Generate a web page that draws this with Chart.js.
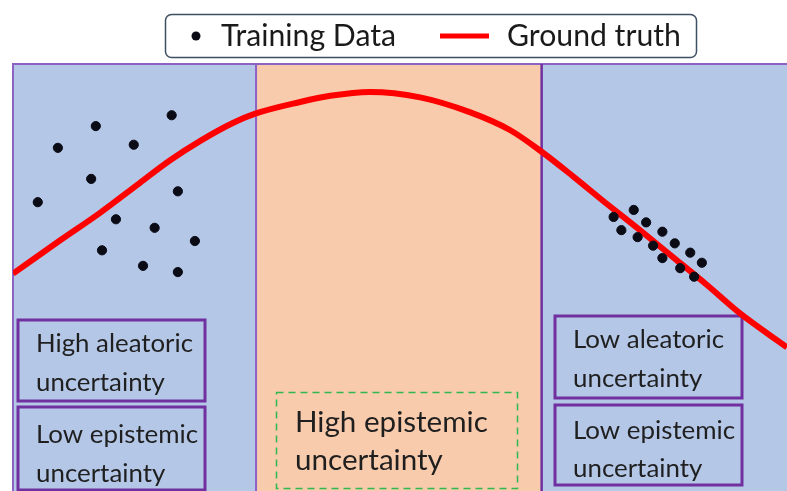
<!DOCTYPE html>
<html>
<head>
<meta charset="utf-8">
<script src="https://cdn.jsdelivr.net/npm/chart.js@4.4.1/dist/chart.umd.min.js"></script>
<style>
    html, body { margin: 0; padding: 0; background: #ffffff; }
    #chart { display: block; }
</style>
</head>
<body>
<canvas id="chart" width="787" height="491"></canvas>
<script>
// Data (x: 0..10 across the plot, y: 0..5.5 bottom to top)
const trainX = [0.32, 0.58, 1.07, 1.56, 2.05, 1.01, 2.13, 1.33, 1.83, 2.35, 1.15, 1.68, 2.13,
                7.76, 8.02, 7.86, 8.18, 8.07, 8.39, 8.27, 8.55, 8.39, 8.75, 8.62, 8.90, 8.80];
const trainY = [3.72, 4.42, 4.70, 4.46, 4.84, 4.02, 3.86, 3.50, 3.39, 3.22, 3.10, 2.90, 2.82,
                3.53, 3.62, 3.36, 3.46, 3.27, 3.34, 3.16, 3.19, 3.00, 3.07, 2.87, 2.94, 2.76];

const truthX = [0.0, 0.61, 1.12, 1.64, 2.03, 2.42, 2.84, 3.13, 3.71, 4.10, 4.61, 5.26,
                5.90, 6.42, 6.83, 7.24, 7.67, 8.10, 8.53, 8.97, 9.39, 10.0];
const truthY = [2.80, 3.23, 3.58, 3.97, 4.26, 4.51, 4.74, 4.86, 5.01, 5.09, 5.14, 5.07,
                4.88, 4.65, 4.37, 4.05, 3.70, 3.36, 3.01, 2.65, 2.29, 1.85];

// Region edges along x (left data region, gap, right data region)
const regionEdges = [0, 3.14, 6.83, 10];
const regionColors = ['#b4c7e7', '#f8cbad', '#b4c7e7'];

const seriesLabels = ['Training Data', 'Ground truth'];

// Helper: font size so that text fills a given width
function fitFont(ctx, text, width, family) {
    ctx.font = '100px ' + family;
    return 100 * width / ctx.measureText(text).width;
}

const FAMILY = 'Lato, "Open Sans", sans-serif';

// Background regions, borders and annotation boxes
const regionsPlugin = {
    id: 'regions',
    beforeDatasetsDraw(chart) {
        const ctx = chart.ctx;
        const xs = chart.scales.x;
        const area = chart.chartArea;
        ctx.save();
        for (let i = 0; i < regionColors.length; i++) {
            const x0 = xs.getPixelForValue(regionEdges[i]);
            const x1 = xs.getPixelForValue(regionEdges[i + 1]);
            ctx.fillStyle = regionColors[i];
            ctx.fillRect(x0, area.top, x1 - x0, area.bottom - area.top);
        }
        // outer frame (top + left)
        ctx.strokeStyle = '#8c62c4';
        ctx.lineWidth = 2;
        ctx.beginPath();
        ctx.moveTo(area.left, area.bottom);
        ctx.lineTo(area.left, area.top);
        ctx.lineTo(area.right, area.top);
        ctx.stroke();
        // separators
        ctx.strokeStyle = '#8c62c4';
        ctx.beginPath();
        const s1 = xs.getPixelForValue(regionEdges[1]);
        ctx.moveTo(s1, area.top);
        ctx.lineTo(s1, area.bottom);
        ctx.stroke();
        ctx.strokeStyle = '#7030a0';
        ctx.lineWidth = 2.5;
        ctx.beginPath();
        const s2 = xs.getPixelForValue(regionEdges[2]);
        ctx.moveTo(s2, area.top);
        ctx.lineTo(s2, area.bottom);
        ctx.stroke();

        // annotation boxes
        const boxes = [
            { r: [18, 320, 187, 81], lines: ['High aleatoric', 'uncertainty'], tx: 36, base: [352, 391], w: 157 },
            { r: [18, 407, 187, 83], lines: ['Low epistemic', 'uncertainty'], tx: 36, base: [443, 482], w: 162 },
            { r: [555, 316, 187, 82], lines: ['Low aleatoric', 'uncertainty'], tx: 573, base: [348, 387], w: 151 },
            { r: [555, 405, 187, 80], lines: ['Low epistemic', 'uncertainty'], tx: 573, base: [439, 477], w: 162 }
        ];
        ctx.strokeStyle = '#7030a0';
        ctx.lineWidth = 3;
        boxes.forEach(b => {
            ctx.strokeRect(b.r[0], b.r[1], b.r[2], b.r[3]);
            const size = fitFont(ctx, b.lines[0], b.w, FAMILY);
            ctx.font = size.toFixed(1) + 'px ' + FAMILY;
            ctx.fillStyle = '#1f1f1f';
            ctx.textBaseline = 'alphabetic';
            ctx.textAlign = 'left';
            b.lines.forEach((t, k) => ctx.fillText(t, b.tx, b.base[k]));
        });

        // dashed box in the gap
        ctx.setLineDash([7, 5]);
        ctx.strokeStyle = '#2fb84f';
        ctx.lineWidth = 1.5;
        ctx.strokeRect(276.5, 392.5, 241, 96);
        ctx.setLineDash([]);
        const big = fitFont(ctx, 'High epistemic', 193, FAMILY);
        ctx.font = big.toFixed(1) + 'px ' + FAMILY;
        ctx.fillStyle = '#1f1f1f';
        ctx.fillText('High epistemic', 295, 432);
        ctx.fillText('uncertainty', 295, 470);
        ctx.restore();
    }
};

// Framed legend on top
const legendPlugin = {
    id: 'boxLegend',
    afterDraw(chart) {
        const ctx = chart.ctx;
        ctx.save();
        ctx.fillStyle = '#ffffff';
        ctx.strokeStyle = '#3f4f63';
        ctx.lineWidth = 1.5;
        ctx.beginPath();
        ctx.roundRect(165.5, 14.5, 531, 43, 6);
        ctx.fill();
        ctx.stroke();

        // dot marker
        ctx.fillStyle = '#0b0b16';
        ctx.beginPath();
        ctx.arc(196, 36, 4.5, 0, Math.PI * 2);
        ctx.fill();
        // line marker
        ctx.strokeStyle = '#ff0000';
        ctx.lineWidth = 5;
        ctx.beginPath();
        ctx.moveTo(440, 36);
        ctx.lineTo(489, 36);
        ctx.stroke();

        const labels = chart.data.datasets.map(d => d.label);
        const size = fitFont(ctx, labels[0], 175, FAMILY);
        ctx.font = size.toFixed(1) + 'px ' + FAMILY;
        ctx.fillStyle = '#1a1a1a';
        ctx.textBaseline = 'alphabetic';
        ctx.fillText(labels[0], 221, 46);
        ctx.fillText(labels[1], 507, 46);
        ctx.restore();
    }
};

new Chart(document.getElementById('chart'), {
    type: 'scatter',
    data: {
        datasets: [{
            label: seriesLabels[0],
            data: trainX.map((x, i) => ({ x: x, y: trainY[i] })),
            backgroundColor: '#0b0b16',
            borderColor: '#0b0b16',
            pointRadius: 4.6,
            pointHoverRadius: 4.6,
            order: 1
        }, {
            label: seriesLabels[1],
            data: truthX.map((x, i) => ({ x: x, y: truthY[i] })),
            showLine: true,
            borderColor: '#ff0000',
            borderWidth: 6,
            pointRadius: 0,
            cubicInterpolationMode: 'monotone',
            fill: false,
            order: 2
        }]
    },
    options: {
        responsive: false,
        devicePixelRatio: 1,
        animation: false,
        layout: { autoPadding: false, padding: { left: 13, top: 64, right: 0, bottom: 0 } },
        scales: {
            x: { type: 'linear', min: 0, max: 10, display: false },
            y: { type: 'linear', min: 0, max: 5.5, display: false }
        },
        plugins: {
            legend: { display: false },
            tooltip: { enabled: false }
        }
    },
    plugins: [regionsPlugin, legendPlugin]
});
</script>
</body>
</html>
